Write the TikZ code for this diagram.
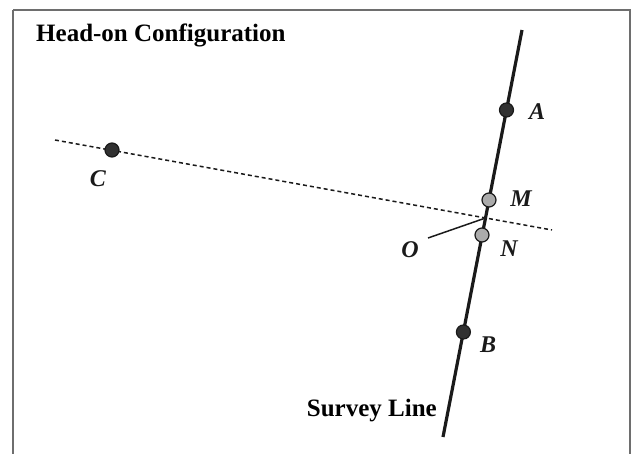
\documentclass[tikz,border=0pt]{standalone}
\usepackage{fontspec}
\setmainfont{Liberation Serif}
\usetikzlibrary{positioning}
\definecolor{ink}{HTML}{1A1A1A}
\definecolor{frame}{HTML}{6E6E6E}
\definecolor{pale}{HTML}{ABABAB}
\tikzset{dot/.style={circle,draw=ink,fill=ink!90,line width=1.2pt,inner sep=0pt,minimum size=14pt},
 gdot/.style={dot,fill=pale},lbl/.style={font=\fontsize{24}{24}\selectfont\bfseries\itshape,text=ink,inner sep=0pt},
 survey/.style={line width=3.2pt,draw=ink},sight/.style={line width=1.5pt,draw=ink,dash pattern=on 4pt off 3pt}}

\begin{document}
\begin{tikzpicture}[x=1pt,y=-1pt]
\useasboundingbox (0,0) rectangle (634,453);
\draw[frame,line width=2.5pt] (13,10)--(630,10)--(630,470) (13,10)--(13,470);
\node[font=\fontsize{25}{25}\selectfont\bfseries,anchor=west,inner sep=0pt] (title) at (36,35) {Head-on Configuration};
% survey line and the points on it
\coordinate (top) at (522,30);
\coordinate (bot) at (443,437);
\draw[survey] (top)--(bot);
\coordinate (s1) at (55,140);
\coordinate (s2) at (552,230);
\draw[sight] (s1)--(s2);
\coordinate (O) at (485.5,218);
\node[lbl] (Olbl) at (410,250) {O};
\draw[ink,line width=1.5pt] (428,238)--(O);
\node[dot] (A) at (506.5,110) {};
\node[gdot] (M) at (489,200) {};
\node[gdot] (N) at (482,235) {};
\node[dot] (B) at (463.4,332) {};
\node[dot] (C) at (112,150) {};
\node[lbl] at (537,112) {A};
\node[lbl] at (521,199) {M};
\node[lbl] at (509,249) {N};
\node[lbl] at (488,345) {B};
\node[lbl] at (98,179) {C};
\node[font=\fontsize{25}{25}\selectfont\bfseries,anchor=east,inner sep=0pt] (sl) at (437,411) {Survey Line};
\end{tikzpicture}
\end{document}
